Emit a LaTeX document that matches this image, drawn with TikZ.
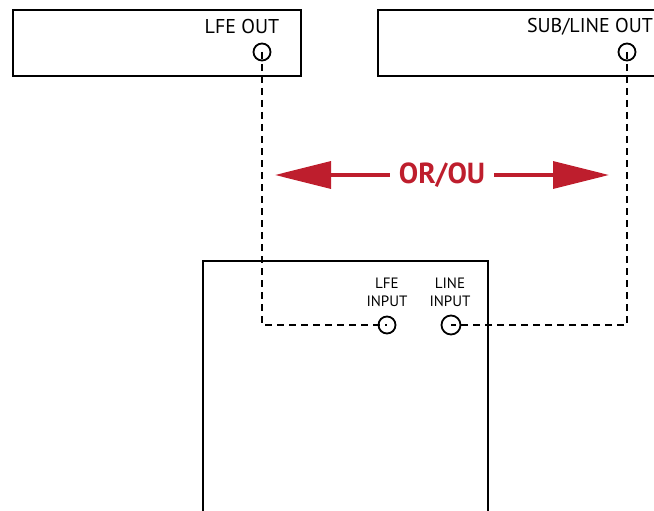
\documentclass[tikz,border=0pt]{standalone}
\usepackage{fontspec}
\setmainfont{PT Sans}
\usetikzlibrary{arrows.meta}
\definecolor{orred}{HTML}{BE1E2D}
\begin{document}
\begin{tikzpicture}[x=1pt,y=-1pt,
  box/.style={draw, line width=2.4pt},
  jack/.style={draw, circle, line width=1.8pt, minimum size=17pt, inner sep=0pt},
  cable/.style={line width=2pt, dash pattern=on 7pt off 5pt},
  lbl/.style={font=\fontsize{20}{22}\selectfont, inner sep=0pt},
  smalllbl/.style={font=\fontsize{15}{16}\selectfont, inner sep=0pt, align=center},
  redarrow/.style={orred, line width=3.5pt, -{Triangle[length=56pt,width=27pt]}}
]
\useasboundingbox (0,0) rectangle (654,511);
% boxes
\draw[box] (13,10) rectangle (301,76);
\draw[box] (656,10) -- (378,10) -- (378,76) -- (656,76);
\draw[box] (203,514) -- (203,261) -- (488,261) -- (488,514);
% labels
\node[lbl] (lfeoutl) at (242,27) {LFE OUT};
\node[lbl] (suboutl) at (590,27) {SUB/LINE OUT};
\node[smalllbl] (lfeinl) at (387,292) {LFE\\[2pt]INPUT};
\node[smalllbl] (lineinl) at (450,292) {LINE\\[2pt]INPUT};
% jacks
\node[jack] (lfeout) at (262,52) {};
\node[jack] (subout) at (627,52) {};
\node[jack] (lfein) at (387,325) {};
\node[jack, minimum size=19pt] (linein) at (451,325) {};
% cables
\coordinate (c1) at (262,325);
\coordinate (c2) at (627,325);
\draw[cable] (lfeout.center) -- (c1) -- (lfein.center);
\draw[cable] (subout.center) -- (c2) -- (linein.center);
% OR/OU
\node[text=orred, font=\fontsize{29}{32}\selectfont\bfseries, inner xsep=9pt, inner ysep=0pt] (or) at (442,175) {OR/OU};
\coordinate (tipl) at (275,175);
\coordinate (tipr) at (609,175);
\draw[redarrow] (or.west) -- (tipl);
\draw[redarrow] (or.east) -- (tipr);
\end{tikzpicture}
\end{document}
